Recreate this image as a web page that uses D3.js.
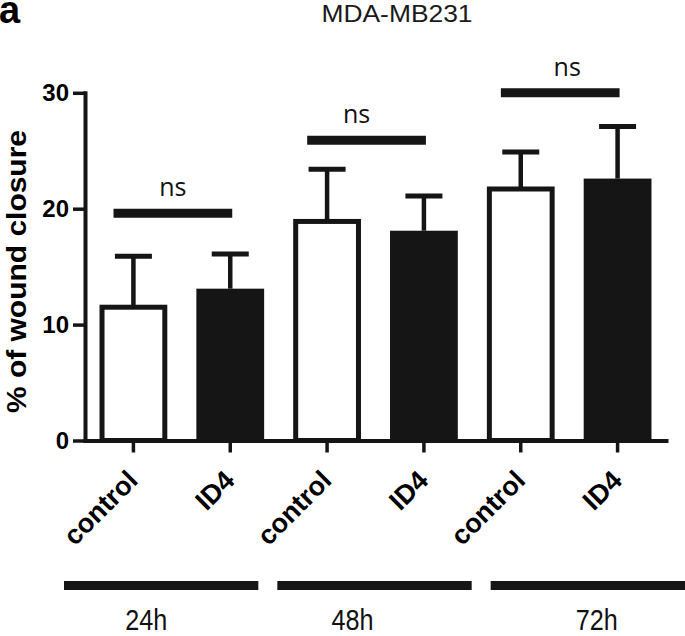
<!DOCTYPE html>
<html>
<head>
<meta charset="utf-8">
<script src="https://cdn.jsdelivr.net/npm/d3@7"></script>
<style>
  html, body { margin: 0; padding: 0; background: #fff; }
  svg { display: block; }
</style>
</head>
<body>
<script>
// ---- data ----
const groups = ["24h", "48h", "72h"];
const treatments = ["control", "ID4"];
const barGroup = ["24h", "24h", "48h", "48h", "72h", "72h"];
const barTreatment = ["control", "ID4", "control", "ID4", "control", "ID4"];
const means = [11.5, 13.1, 18.9, 18.1, 21.7, 22.6];
const errors = [4.4, 3.0, 4.5, 3.0, 3.2, 4.5];
const sigLevel = [19.6, 25.9, 30.0];
const sigLabel = ["ns", "ns", "ns"];
const yTicks = [0, 10, 20, 30];
const title = "MDA-MB231";
const panelLabel = "a";
const yTitle = "% of wound closure";

// ---- layout ----
const W = 685, H = 636;
const INK = "#151515";
const SANS = "'Liberation Sans', Arial, sans-serif";
const svg = d3.select("body").append("svg").attr("width", W).attr("height", H);

const keys = barGroup.map((g, i) => g + "|" + barTreatment[i]);
const x = d3.scaleBand().domain(keys).range([85, 666]).paddingInner(0.3).paddingOuter(0.15);
const y = d3.scaleLinear().domain([0, 30]).range([440.5, 92.8]);
const fill = d3.scaleOrdinal().domain(treatments).range(["#ffffff", INK]);
const bw = x.bandwidth();

// panel letter and title
svg.append("text").attr("x", -1).attr("y", 23)
  .attr("font-family", SANS).attr("font-weight", "bold")
  .attr("font-size", 38).attr("fill", "#000").text(panelLabel);
svg.append("text").attr("x", 397).attr("y", 22).attr("text-anchor", "middle")
  .attr("font-family", SANS).attr("font-size", 24)
  .attr("textLength", 151).attr("lengthAdjust", "spacingAndGlyphs")
  .attr("fill", "#1a1a1a").text(title);

// y axis
const yAxis = svg.append("g").attr("transform", "translate(85,0)")
  .call(d3.axisLeft(y).tickValues(yTicks).tickSize(12).tickSizeOuter(0).tickPadding(4).tickFormat(d3.format("d")));
yAxis.select(".domain").attr("stroke", INK).attr("stroke-width", 4).attr("stroke-linecap", "square");
yAxis.selectAll(".tick line").attr("stroke", INK).attr("stroke-width", 3.5);
yAxis.selectAll(".tick text").attr("font-family", SANS)
  .attr("font-weight", "bold").attr("font-size", 24).attr("fill", "#000").attr("x", -16);

// y title
svg.append("text").attr("transform", "translate(25.5,271.5) rotate(-90)")
  .attr("text-anchor", "middle")
  .attr("font-family", SANS).attr("font-weight", "bold")
  .attr("font-size", 28).attr("textLength", 283).attr("lengthAdjust", "spacingAndGlyphs")
  .attr("fill", "#000").text(yTitle);

// x axis
const xAxis = svg.append("g").attr("transform", "translate(0," + y(0) + ")")
  .call(d3.axisBottom(x).tickSize(12).tickSizeOuter(0).tickFormat(""));
xAxis.select(".domain").attr("stroke", INK).attr("stroke-width", 4).attr("stroke-linecap", "square");
xAxis.selectAll(".tick line").attr("stroke", INK).attr("stroke-width", 3.5);

// rotated category labels
svg.append("g").selectAll("text").data(keys).join("text")
  .attr("transform", (k) => "translate(" + (x(k) + bw / 2 + 6) + ",482) rotate(-45)")
  .attr("text-anchor", "end")
  .attr("font-family", SANS).attr("font-weight", "bold")
  .attr("font-size", 27).attr("fill", "#000")
  .text((k, i) => barTreatment[i]);

// bars
const bars = svg.append("g");
keys.forEach((k, i) => {
  const isOpen = barTreatment[i] === "control";
  const inset = isOpen ? 2.5 : 0;
  bars.append("rect")
    .attr("x", x(k) + inset).attr("width", bw - 2 * inset)
    .attr("y", y(means[i])).attr("height", y(0) - y(means[i]))
    .attr("fill", fill(barTreatment[i]))
    .attr("stroke", isOpen ? INK : "none").attr("stroke-width", isOpen ? 5 : 0);
  const cx = x(k) + bw / 2;
  bars.append("line").attr("x1", cx).attr("x2", cx)
    .attr("y1", y(means[i])).attr("y2", y(means[i] + errors[i]))
    .attr("stroke", INK).attr("stroke-width", 4.5);
  bars.append("line").attr("x1", cx - 18.5).attr("x2", cx + 18.5)
    .attr("y1", y(means[i] + errors[i])).attr("y2", y(means[i] + errors[i]))
    .attr("stroke", INK).attr("stroke-width", 5);
});

// significance bars
const sig = svg.append("g");
const nsShift = [0, -10, 7];
groups.forEach((g, gi) => {
  const x1 = x(g + "|control") + 14;
  const x2 = x(g + "|ID4") + bw / 2 + 2;
  const yy = y(sigLevel[gi]);
  sig.append("line").attr("x1", x1).attr("x2", x2).attr("y1", yy).attr("y2", yy)
    .attr("stroke", INK).attr("stroke-width", 9);
  sig.append("text").attr("x", (x1 + x2) / 2 + nsShift[gi]).attr("y", yy - 17)
    .attr("text-anchor", "middle")
    .attr("font-family", "'Open Sans', 'Noto Sans', sans-serif")
    .attr("font-size", 25).attr("fill", "#111").text(sigLabel[gi]);
});

// group lines and labels
const gx = d3.scaleBand().domain(groups).range([64, 685]).paddingInner(0.089).paddingOuter(0);
const labelShift = [-15, -22, 9];
const grp = svg.append("g");
groups.forEach((g, gi) => {
  grp.append("line").attr("x1", gx(g)).attr("x2", gx(g) + gx.bandwidth())
    .attr("y1", 585.5).attr("y2", 585.5).attr("stroke", INK).attr("stroke-width", 9);
  grp.append("text").attr("x", gx(g) + gx.bandwidth() / 2 + labelShift[gi]).attr("y", 629.5)
    .attr("text-anchor", "middle")
    .attr("font-family", SANS)
    .attr("font-size", 29).attr("textLength", 42).attr("lengthAdjust", "spacingAndGlyphs")
    .attr("fill", "#111").text(g);
});
</script>
</body>
</html>
